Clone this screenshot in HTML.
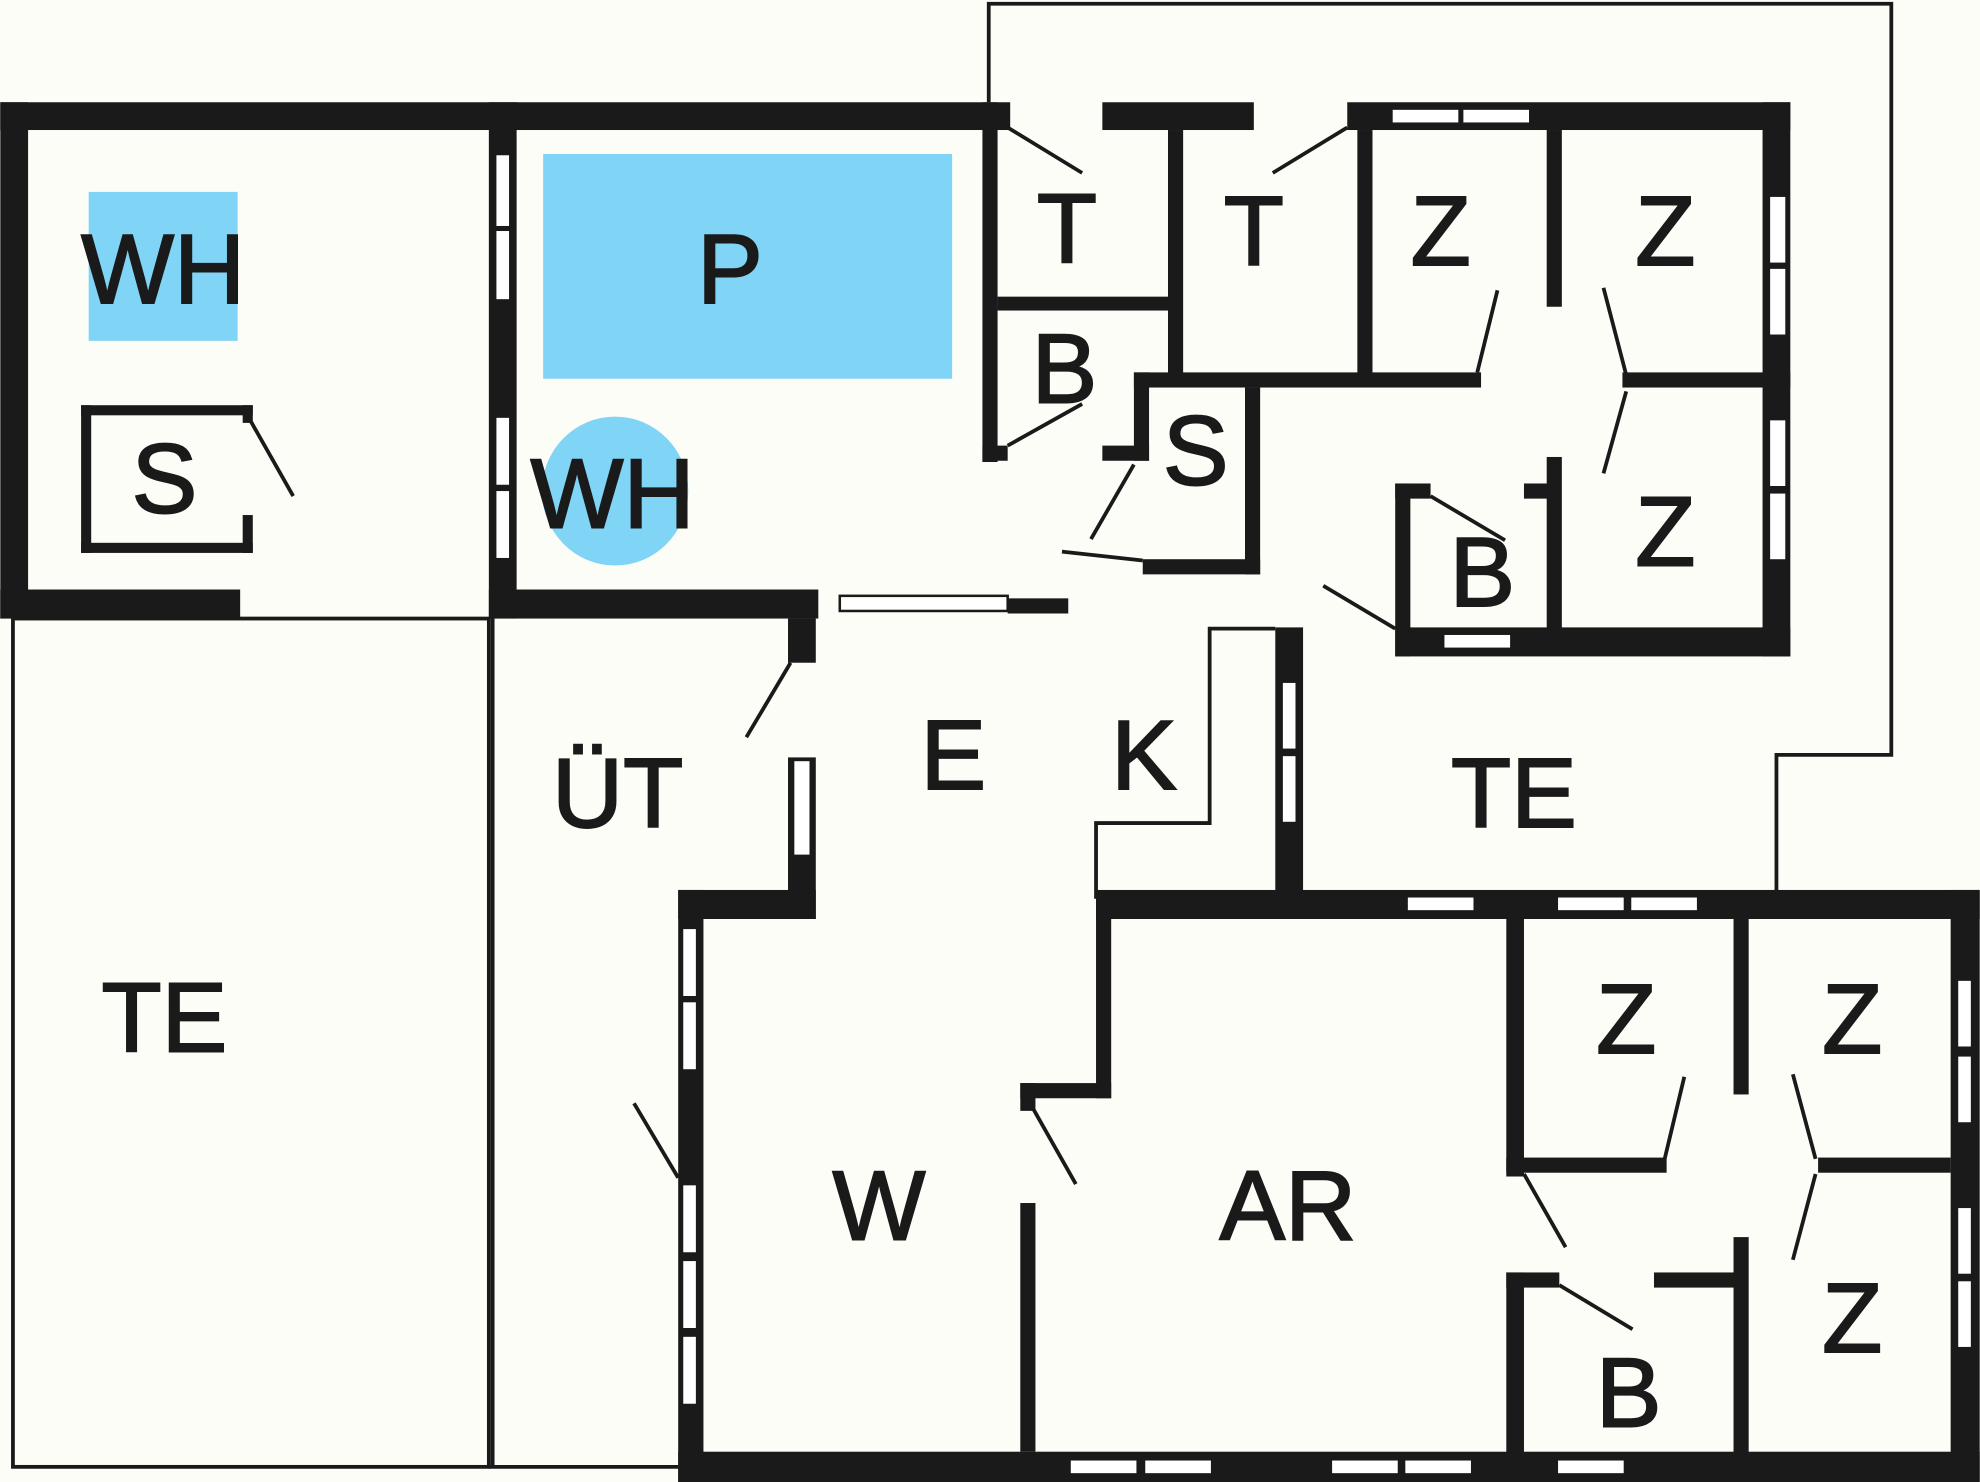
<!DOCTYPE html>
<html><head><meta charset="utf-8"><style>
html,body{margin:0;padding:0;background:#fdfdf8;}
svg{display:block;}
text{font-family:"Liberation Sans",sans-serif;font-size:78px;fill:#1a1a1a;stroke:#1a1a1a;stroke-width:1.5;text-anchor:middle;}
</style></head><body>
<svg width="1980" height="1482" viewBox="0 0 1568 1174" xmlns="http://www.w3.org/2000/svg">
<rect width="1568" height="1174" fill="#fdfdf8"/>
<rect x="430" y="122" width="324" height="178" fill="#80d4f6"/>
<rect x="70" y="152" width="118" height="118" fill="#80d4f6"/>
<ellipse cx="487" cy="389" rx="58" ry="59" fill="#80d4f6"/>
<g fill="none" stroke="#1a1a1a" stroke-width="3">
<polyline points="783,81 783,3 1498,3 1498,598 1407,598 1407,706"/>
<rect x="10" y="490" width="377" height="672"/>
<line x1="390" y1="480" x2="390" y2="1162"/>
<line x1="387" y1="1162" x2="537" y2="1162"/>
<polyline points="868,712 868,652 958,652 958,498 1010,498"/>
</g>
<g fill="#1a1a1a">
<rect x="0" y="81" width="800" height="22"/>
<rect x="873" y="81" width="120" height="22"/>
<rect x="1067" y="81" width="351" height="22"/>
<rect x="0" y="81" width="22" height="409"/>
<rect x="0" y="467" width="190" height="23"/>
<rect x="387" y="81" width="22" height="409"/>
<rect x="387" y="467" width="261" height="23"/>
<rect x="798" y="474" width="48" height="12"/>
<rect x="64" y="321" width="136" height="8"/>
<rect x="64" y="321" width="8" height="117"/>
<rect x="64" y="430" width="136" height="8"/>
<rect x="192" y="321" width="8" height="14"/><rect x="192" y="408" width="8" height="30"/>
<rect x="624" y="490" width="22" height="35"/>
<rect x="624" y="600" width="22" height="128"/>
<rect x="537" y="705" width="109" height="23"/>
<rect x="537" y="705" width="20" height="469"/>
<rect x="537" y="1150" width="1031" height="24"/>
<rect x="1545" y="705" width="23" height="469"/>
<rect x="808" y="858" width="72" height="12"/>
<rect x="868" y="710" width="12" height="160"/>
<rect x="808" y="858" width="12" height="22"/><rect x="808" y="953" width="12" height="197"/>
<rect x="868" y="705" width="700" height="23"/>
<rect x="1010" y="497" width="22" height="231"/>
<rect x="778" y="81" width="12" height="285"/>
<rect x="790" y="235" width="140" height="11"/>
<rect x="925" y="103" width="12" height="195"/>
<rect x="778" y="353" width="20" height="12"/>
<rect x="873" y="353" width="37" height="12"/>
<rect x="898" y="295" width="12" height="70"/>
<rect x="898" y="295" width="275" height="12"/>
<rect x="986" y="307" width="12" height="148"/>
<rect x="905" y="443" width="93" height="12"/>
<rect x="1075" y="103" width="12" height="200"/>
<rect x="1225" y="103" width="12" height="140"/>
<rect x="1285" y="295" width="133" height="12"/>
<rect x="1225" y="362" width="12" height="140"/>
<rect x="1396" y="81" width="22" height="439"/>
<rect x="1105" y="497" width="313" height="23"/>
<rect x="1105" y="383" width="12" height="137"/>
<rect x="1105" y="383" width="28" height="12"/><rect x="1207" y="383" width="25" height="12"/>
<rect x="1193" y="722" width="14" height="210"/>
<rect x="1193" y="1008" width="14" height="150"/>
<rect x="1193" y="917" width="127" height="12"/>
<rect x="1373" y="722" width="12" height="145"/>
<rect x="1373" y="980" width="12" height="175"/>
<rect x="1440" y="917" width="105" height="12"/>
<rect x="1193" y="1008" width="42" height="12"/>
<rect x="1310" y="1008" width="70" height="12"/>
</g>
<g fill="#fff" stroke="#1a1a1a" stroke-width="2">
<rect x="392" y="122" width="12" height="58"/><rect x="392" y="182" width="12" height="56"/>
<rect x="392" y="330" width="12" height="55"/><rect x="392" y="388" width="12" height="55"/>
<rect x="665" y="472" width="133" height="12"/>
<rect x="628" y="602" width="14" height="76"/>
<rect x="540" y="735" width="12" height="55"/><rect x="540" y="793" width="12" height="55"/>
<rect x="540" y="938" width="12" height="55"/><rect x="540" y="998" width="12" height="55"/><rect x="540" y="1058" width="12" height="55"/>
<rect x="1102" y="86" width="54" height="12"/><rect x="1158" y="86" width="54" height="12"/>
<rect x="1401" y="155" width="14" height="54"/><rect x="1401" y="212" width="14" height="54"/>
<rect x="1401" y="332" width="14" height="54"/><rect x="1401" y="390" width="14" height="54"/>
<rect x="1143" y="502" width="54" height="12"/>
<rect x="1015" y="540" width="12" height="54"/><rect x="1015" y="598" width="12" height="54"/>
<rect x="1114" y="710" width="54" height="12"/><rect x="1233" y="710" width="54" height="12"/><rect x="1291" y="710" width="54" height="12"/>
<rect x="1550" y="776" width="12" height="54"/><rect x="1550" y="836" width="12" height="54"/>
<rect x="1550" y="956" width="12" height="54"/><rect x="1550" y="1014" width="12" height="54"/>
<rect x="847" y="1156" width="54" height="12"/><rect x="906" y="1156" width="54" height="12"/>
<rect x="1054" y="1156" width="54" height="12"/><rect x="1112" y="1156" width="54" height="12"/>
<rect x="1233" y="1156" width="54" height="12"/>
</g>
<g stroke="#1a1a1a" stroke-width="3" fill="none">
<line x1="198" y1="333" x2="232" y2="393"/>
<line x1="798" y1="101" x2="857" y2="137"/>
<line x1="1067" y1="101" x2="1008" y2="137"/>
<line x1="798" y1="353" x2="857" y2="320"/>
<line x1="898" y1="368" x2="864" y2="427"/>
<line x1="841" y1="437" x2="905" y2="444"/>
<line x1="1186" y1="230" x2="1170" y2="295"/>
<line x1="1270" y1="228" x2="1288" y2="297"/>
<line x1="1288" y1="310" x2="1270" y2="375"/>
<line x1="1133" y1="393" x2="1192" y2="428"/>
<line x1="1048" y1="464" x2="1105" y2="498"/>
<line x1="626" y1="525" x2="591" y2="584"/>
<line x1="502" y1="874" x2="537" y2="933"/>
<line x1="818" y1="878" x2="852" y2="938"/>
<line x1="1334" y1="853" x2="1318" y2="920"/>
<line x1="1420" y1="851" x2="1438" y2="918"/>
<line x1="1438" y1="930" x2="1420" y2="998"/>
<line x1="1207" y1="930" x2="1240" y2="988"/>
<line x1="1235" y1="1018" x2="1293" y2="1053"/>
</g>
<text x="129" y="240">WH</text>
<text x="130" y="406">S</text>
<text x="578" y="240">P</text>
<text x="485" y="418">WH</text>
<text x="845" y="208">T</text>
<text x="993" y="210">T</text>
<text x="1141" y="210">Z</text>
<text x="1319" y="210">Z</text>
<text x="843" y="319">B</text>
<text x="947" y="384">S</text>
<text x="1174" y="480">B</text>
<text x="1319" y="448">Z</text>
<text x="489" y="655">ÜT</text>
<text x="755" y="625">E</text>
<text x="906" y="625">K</text>
<text x="1199" y="655">TE</text>
<text x="130" y="833">TE</text>
<text x="696" y="982">W</text>
<text x="1020" y="982">AR</text>
<text x="1288" y="834">Z</text>
<text x="1467" y="834">Z</text>
<text x="1467" y="1071">Z</text>
<text x="1290" y="1130">B</text>
</svg>
</body></html>
